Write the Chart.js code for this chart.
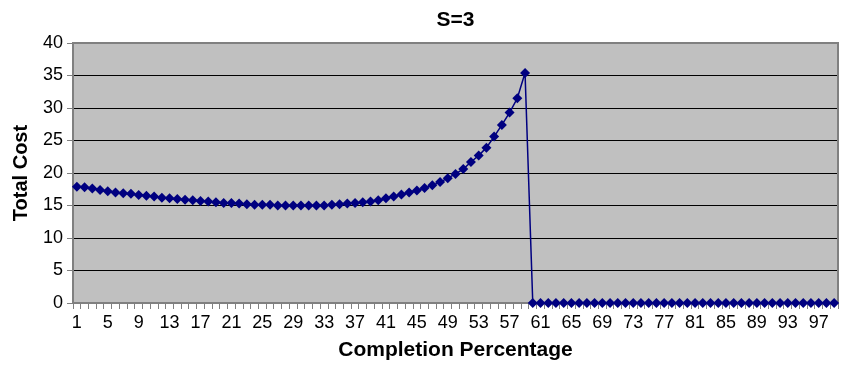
<!DOCTYPE html>
<html>
<head>
<meta charset="utf-8">
<script src="https://cdn.jsdelivr.net/npm/chart.js@4.4.1/dist/chart.umd.min.js"></script>
<style>
    html, body { margin: 0; padding: 0; background: #fff; }
    #wrap { width: 843px; height: 366px; }
</style>
</head>
<body>
<div id="wrap"><canvas id="chart" width="843" height="366"></canvas></div>
<script>
// categories: completion percentage 1..99
const categories = [
    1, 2, 3, 4, 5, 6, 7, 8, 9, 10, 11, 12, 13, 14, 15, 16, 17, 18, 19, 20,
    21, 22, 23, 24, 25, 26, 27, 28, 29, 30, 31, 32, 33, 34, 35, 36, 37, 38, 39, 40,
    41, 42, 43, 44, 45, 46, 47, 48, 49, 50, 51, 52, 53, 54, 55, 56, 57, 58, 59, 60,
    61, 62, 63, 64, 65, 66, 67, 68, 69, 70, 71, 72, 73, 74, 75, 76, 77, 78, 79, 80,
    81, 82, 83, 84, 85, 86, 87, 88, 89, 90, 91, 92, 93, 94, 95, 96, 97, 98, 99
];

// total cost
const totalCost = [
    17.9, 17.8, 17.6, 17.4, 17.2, 17.0, 16.9, 16.8, 16.6, 16.5,
    16.4, 16.2, 16.1, 16.0, 15.9, 15.8, 15.7, 15.6, 15.5, 15.4,
    15.4, 15.3, 15.2, 15.1, 15.1, 15.1, 15.0, 15.0, 15.0, 15.0,
    15.0, 15.0, 15.0, 15.1, 15.2, 15.3, 15.4, 15.5, 15.6, 15.8,
    16.1, 16.4, 16.7, 17.0, 17.3, 17.7, 18.1, 18.6, 19.2, 19.85,
    20.6, 21.7, 22.7, 23.9, 25.6, 27.4, 29.3, 31.5, 35.4, 0,
    0, 0, 0, 0, 0, 0, 0, 0, 0, 0,
    0, 0, 0, 0, 0, 0, 0, 0, 0, 0,
    0, 0, 0, 0, 0, 0, 0, 0, 0, 0,
    0, 0, 0, 0, 0, 0, 0, 0, 0
];

// labels that are printed under the x axis
const shownLabels = [1, 5, 9, 13, 17, 21, 25, 29, 33, 37, 41, 45, 49, 53, 57, 61, 65, 69, 73, 77, 81, 85, 89, 93, 97];
const yTicks = [0, 5, 10, 15, 20, 25, 30, 35, 40];

const FONT = "'Liberation Sans', Arial, Helvetica, sans-serif";
const GREY = "#808080";

// grey plot area with a frame, like the old Excel chart
const plotFrame = {
    id: "plotFrame",
    beforeDraw(chart) {
        const { ctx, chartArea: a } = chart;
        ctx.save();
        ctx.fillStyle = "#c0c0c0";
        ctx.fillRect(a.left, a.top, a.right - a.left, a.bottom - a.top);
        ctx.restore();
    },
    beforeDatasetsDraw(chart) {
        const { ctx, chartArea: a } = chart;
        ctx.save();
        ctx.strokeStyle = GREY;
        ctx.lineWidth = 2;
        ctx.beginPath();
        ctx.moveTo(a.left, a.top);
        ctx.lineTo(a.right, a.top);
        ctx.lineTo(a.right, a.bottom);
        ctx.stroke();
        ctx.restore();
    }
};

new Chart(document.getElementById("chart"), {
    type: "line",
    data: {
        labels: categories,
        datasets: [{
            label: "Total Cost",
            data: totalCost,
            borderColor: "#000080",
            backgroundColor: "#000080",
            borderWidth: 1.5,
            pointStyle: "rectRot",
            pointRadius: 5,
            pointBorderWidth: 0,
            pointBackgroundColor: "#000080",
            tension: 0,
            clip: false
        }]
    },
    options: {
        responsive: false,
        animation: false,
        layout: { padding: { left: 0, right: 1, top: 0, bottom: 0 } },
        plugins: {
            legend: { display: false },
            tooltip: { enabled: false }
        },
        scales: {
            x: {
                type: "category",
                position: "bottom",
                offset: true,
                afterFit: (s) => { s.height = 63; },
                grid: {
                    display: true,
                    offset: true,
                    drawOnChartArea: false,
                    tickLength: 6,
                    tickColor: GREY,
                    lineWidth: 1
                },
                border: { color: GREY, width: 2 },
                ticks: {
                    autoSkip: false,
                    maxRotation: 0,
                    minRotation: 0,
                    padding: 3,
                    color: "#000",
                    font: { family: FONT, size: 18 },
                    callback: function (value, index) {
                        const lab = categories[index];
                        return shownLabels.includes(lab) ? String(lab) : "";
                    }
                },
                title: {
                    display: true,
                    text: "Completion Percentage",
                    color: "#000",
                    font: { family: FONT, size: 21, weight: "bold" },
                    padding: { top: 0, bottom: 3 }
                }
            },
            xTop: {
                type: "category",
                position: "top",
                labels: categories,
                afterFit: (s) => { s.height = 43; },
                grid: { display: false },
                border: { display: false },
                ticks: { display: false },
                title: {
                    display: true,
                    text: "S=3",
                    color: "#000",
                    font: { family: FONT, size: 21, weight: "bold" },
                    padding: { top: 8, bottom: 0 }
                }
            },
            y: {
                min: 0,
                max: 40,
                afterFit: (s) => { s.width = 73; },
                afterBuildTicks: (s) => { s.ticks = yTicks.map(v => ({ value: v })); },
                grid: {
                    color: "#000",
                    lineWidth: 1,
                    tickLength: 6,
                    tickColor: GREY
                },
                border: { color: GREY, width: 2 },
                ticks: {
                    padding: 4,
                    color: "#000",
                    font: { family: FONT, size: 18 }
                },
                title: {
                    display: true,
                    text: "Total Cost",
                    color: "#000",
                    font: { family: FONT, size: 20, weight: "bold" },
                    padding: { top: 9, bottom: 0 }
                }
            }
        }
    },
    plugins: [plotFrame]
});
</script>
</body>
</html>
